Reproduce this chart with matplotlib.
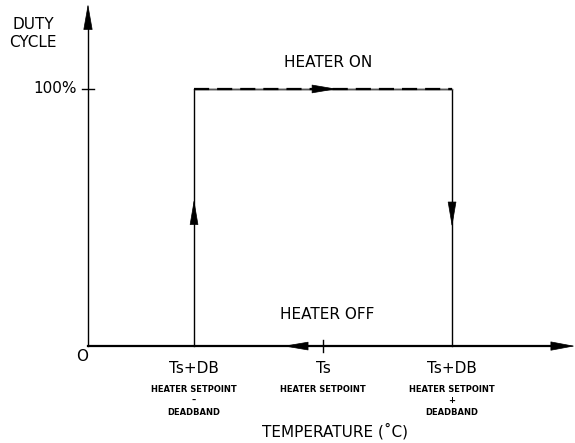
import matplotlib.pyplot as plt

# temperature positions (relative to setpoint, in deadband units) and duty levels
temp_pos = [-1, 0, 1]
temp_labels = ["Ts+DB", "Ts", "Ts+DB"]
temp_notes = ["HEATER SETPOINT\n\u2013\nDEADBAND", "HEATER SETPOINT", "HEATER SETPOINT\n+\nDEADBAND"]
duty_off = 0
duty_on = 100

# hysteresis loop: Ts-DB -> ON, Ts+DB -> OFF
loop_t = [-1, -1, 1, 1, -1]
loop_d = [duty_off, duty_on, duty_on, duty_off, duty_off]

fig = plt.figure(figsize=(5.75, 4.43), dpi=100)
ax = fig.add_axes([0, 0, 1, 1])
ax.set_xlim(-2.504, 1.953)
ax.set_ylim(-37.7, 134.6)
ax.axis("off")

t0 = -1.822  # axes origin
t_end = 1.953
d_end = 133.1
font = "DejaVu Sans"
fs = 11

# axes lines
ax.plot([t0, t_end - 0.17], [0, 0], color="black", lw=1.6)
ax.plot([t0, t0], [0, d_end - 9], color="black", lw=1.0)
ax.annotate("", xy=(t_end, 0), xytext=(t_end - 0.17, 0),
            arrowprops=dict(arrowstyle="-|>,head_length=1.6,head_width=0.3", color="black",
                            lw=0.5, mutation_scale=10, shrinkA=0, shrinkB=0))
ax.annotate("", xy=(t0, d_end), xytext=(t0, d_end - 9),
            arrowprops=dict(arrowstyle="-|>,head_length=1.7,head_width=0.3", color="black",
                            lw=0.5, mutation_scale=10, shrinkA=0, shrinkB=0))

# loop
ax.plot(loop_t[:4], loop_d[:4], color="black", lw=1.0)
ax.plot([-1, 1], [duty_on, duty_on], color="#555555", lw=1.0)
ax.plot([-1, 1], [duty_on, duty_on], color="black", lw=1.6, dashes=(6.8, 3.6))

arrow_kw = dict(arrowstyle="-|>,head_length=1.65,head_width=0.28", color="black",
                lw=0.5, mutation_scale=10, shrinkA=0, shrinkB=0)
ax.annotate("", xy=(-1, 57), xytext=(-1, 48.5), arrowprops=arrow_kw)
ax.annotate("", xy=(1, 46.3), xytext=(1, 56), arrowprops=arrow_kw)
ax.annotate("", xy=(0.109, duty_on), xytext=(-0.078, duty_on), arrowprops=arrow_kw)
ax.annotate("", xy=(-0.310, duty_off), xytext=(-0.140, duty_off), arrowprops=arrow_kw)

# ticks
ax.plot([t0 - 0.045, t0 + 0.045], [duty_on, duty_on], color="black", lw=1.0)
ax.plot([0, 0], [-2.3, 2.3], color="black", lw=1.0)

# labels
ax.text(t0 - 0.09, duty_on, "100%", ha="right", va="center", fontsize=fs, family=font)
ax.text(t0 - 0.045, -4.2, "O", ha="center", va="center", fontsize=fs, family=font)
ax.text(-2.248, 125, "DUTY", ha="center", va="center", fontsize=fs, family=font)
ax.text(-2.248, 118, "CYCLE", ha="center", va="center", fontsize=fs, family=font)
ax.text(0.04, 110.3, "HEATER ON", ha="center", va="center", fontsize=fs, family=font)
ax.text(0.03, 12.1, "HEATER OFF", ha="center", va="center", fontsize=fs, family=font)
ax.text(0.09, -33, "TEMPERATURE (\u02daC)", ha="center", va="center", fontsize=fs, family=font)

for t, lab, note in zip(temp_pos, temp_labels, temp_notes):
    ax.text(t, -8.6, lab, ha="center", va="center", fontsize=fs, family=font)
    ax.text(t, -15.0, note, ha="center", va="top", fontsize=6.0, family=font,
            fontweight="bold", linespacing=1.35)

fig.savefig("out.png", dpi=100, facecolor="white")
